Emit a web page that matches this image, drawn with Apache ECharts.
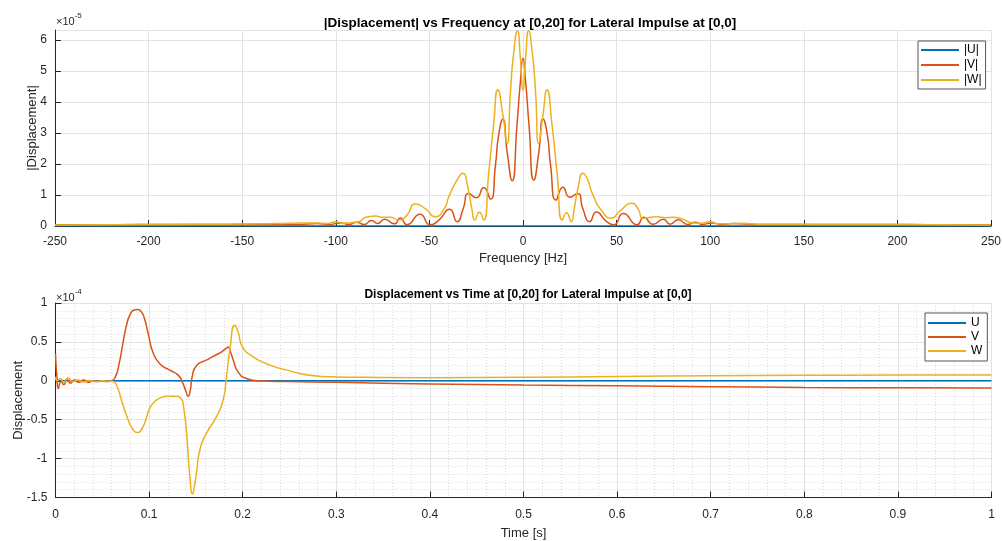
<!DOCTYPE html>
<html>
<head>
<meta charset="utf-8">
<script src="https://cdn.jsdelivr.net/npm/echarts@6/dist/echarts.min.js"></script>
<style>html,body{margin:0;padding:0;background:#fff;}#c{width:1002px;height:541px;}</style>
</head>
<body>
<div id="c"></div>
<script>
// ---------- Top chart: |Displacement| (units of 1e-5) vs frequency ----------
const freqTicks = [-250, -200, -150, -100, -50, 0, 50, 100, 150, 200, 250];
const freqU = [-250, 250];
const magU = [0, 0];
const freqV = [-250, -220, -190, -160, -135, -120, -110, -103, -97.5, -93, -89, -84.7, -81, -77.6, -74, -68.7, -65.5, -62, -55, -49.5, -44.8, -39.2, -35.2, -32, -29, -24.9, -21, -17.4, -14.7, -13, -10.8, -8.5, -5.8, -3.2, -1.4, 0,
  1.4, 3.2, 5.8, 8.5, 10.7, 13, 14.7, 17.7, 21.3, 25, 29.2, 32, 35.6, 39.2, 44.5, 48.5, 53.5, 61, 64.5, 69.5, 75, 78.5, 83, 88, 92, 96, 101, 106, 112, 125, 160, 190, 220, 250];
const magV = [0.04, 0.04, 0.05, 0.05, 0.06, 0.05, 0.08, 0.05, 0.1, 0.05, 0.12, 0.05, 0.18, 0.08, 0.22, 0.07, 0.26, 0.04, 0.38, 0.04, 0.2, 0.54, 0.14, 0.55, 1.05, 0.91, 1.24, 0.87, 1.97, 2.94, 3.44, 2.4, 1.46, 3.26, 4.65, 5.41,
  4.65, 3.26, 1.48, 2.4, 3.45, 2.94, 1.97, 0.84, 1.25, 0.93, 1.05, 0.55, 0.14, 0.45, 0.15, 0.04, 0.4, 0.04, 0.28, 0.06, 0.22, 0.06, 0.2, 0.05, 0.12, 0.05, 0.1, 0.05, 0.08, 0.05, 0.05, 0.05, 0.04, 0.04];
const freqW = [-250, -220, -190, -160, -140, -125, -110, -104.6, -100, -96, -92.9, -87.6, -84, -78.7, -75, -71, -66, -62, -57.5, -52, -47, -42, -39.6, -35, -32.2, -29.5, -27.2, -25.8, -23.3, -21, -18.4, -15.7, -13.4, -10.8, -8.5, -6.7, -4.9, -3, -1.4, 0,
  1.4, 3, 4.9, 6.7, 8.4, 10.7, 12.8, 15.5, 18.3, 21, 23.3, 25.8, 27.2, 29.5, 32, 34.5, 37, 42.4, 47.2, 52, 58.2, 61.5, 64.3, 71.7, 76, 80, 85, 90.4, 95, 100, 104, 108, 118, 125, 140, 160, 190, 220, 250];
const magW = [0.03, 0.04, 0.05, 0.06, 0.07, 0.09, 0.1, 0.08, 0.14, 0.09, 0.1, 0.14, 0.28, 0.32, 0.28, 0.28, 0.19, 0.35, 0.71, 0.55, 0.3, 0.57, 0.95, 1.5, 1.70, 1.25, 0.51, 0.19, 0.44, 0.19, 1.65, 3.26, 4.39, 3.6, 2.66, 4.33, 5.62, 6.29, 5.41, 4.37,
  5.41, 6.29, 5.62, 4.33, 2.66, 3.6, 4.39, 3.26, 1.65, 0.19, 0.43, 0.14, 0.5, 1.25, 1.70, 1.5, 1.05, 0.46, 0.25, 0.5, 0.73, 0.55, 0.25, 0.3, 0.27, 0.28, 0.23, 0.1, 0.09, 0.14, 0.07, 0.07, 0.09, 0.06, 0.06, 0.05, 0.05, 0.04, 0.03];

// ---------- Bottom chart: Displacement (units of 1e-4) vs time ----------
const timeTicks = [0, 0.1, 0.2, 0.3, 0.4, 0.5, 0.6, 0.7, 0.8, 0.9, 1];
const timeU = [0, 1];
const dispU = [0, 0];
const timeV = [0, 0.0015, 0.003, 0.006, 0.009, 0.012, 0.016, 0.02, 0.025, 0.03, 0.035, 0.04, 0.045, 0.05, 0.055, 0.06, 0.064, 0.068, 0.072, 0.076, 0.08, 0.084, 0.0875, 0.091, 0.0945, 0.099, 0.104, 0.1114, 0.122, 0.131, 0.136, 0.1395, 0.1417, 0.144, 0.146, 0.151, 0.161, 0.168, 0.177, 0.1815, 0.1844, 0.187, 0.19, 0.195, 0.204, 0.218, 0.25, 0.3, 0.4, 0.5, 0.6, 0.7, 0.8, 0.9, 1.0];
const dispV = [0.35, 0.05, -0.10, -0.01, -0.05, 0.02, -0.03, 0.01, -0.02, 0.01, -0.02, 0.0, -0.01, 0.0, -0.01, 0.0, 0.05, 0.22, 0.48, 0.72, 0.86, 0.91, 0.915, 0.895, 0.82, 0.61, 0.37, 0.22, 0.137, 0.073, -0.03, -0.14, -0.2, -0.12, 0.05, 0.2, 0.265, 0.31, 0.37, 0.41, 0.436, 0.37, 0.265, 0.115, 0.03, 0.0, -0.01, -0.02, -0.04, -0.055, -0.065, -0.075, -0.085, -0.09, -0.093];
const timeW = [0, 0.002, 0.005, 0.009, 0.0135, 0.018, 0.024, 0.03, 0.036, 0.042, 0.05, 0.056, 0.0616, 0.066, 0.0705, 0.0776, 0.083, 0.0876, 0.0925, 0.0965, 0.1, 0.105, 0.111, 0.12, 0.13, 0.1346, 0.1363, 0.14, 0.1435, 0.1464, 0.1485, 0.1506, 0.1542, 0.1613, 0.172, 0.179, 0.1827, 0.1862, 0.1916, 0.195, 0.2, 0.211, 0.2254, 0.247, 0.282, 0.3, 0.4, 0.5, 0.6, 0.7, 0.8, 0.9, 1.0];
const dispW = [0.05, 0.0, 0.03, -0.02, 0.04, -0.01, 0.01, -0.015, 0.005, -0.01, 0.0, -0.005, -0.01, -0.08, -0.25, -0.50, -0.63, -0.666, -0.61, -0.5, -0.37, -0.28, -0.226, -0.2, -0.2, -0.24, -0.29, -0.675, -1.22, -1.456, -1.35, -1.19, -0.89, -0.675, -0.46, -0.25, 0.05, 0.39, 0.714, 0.63, 0.43, 0.31, 0.22, 0.137, 0.06, 0.05, 0.04, 0.045, 0.055, 0.065, 0.07, 0.073, 0.075];

const C_U = '#0072BD', C_V = '#D95319', C_W = '#EDB120';
const AX = '#262626';
const FONT = 'Liberation Sans, Arial, Helvetica, sans-serif';
const zip = (xs, ys) => xs.map((x, i) => [x, ys[i]]);

function lineSeries(name, xs, ys, color, idx, smooth) {
  return {
    name, type: 'line', xAxisIndex: idx, yAxisIndex: idx,
    data: zip(xs, ys), showSymbol: false, symbol: 'none',
    smooth: smooth,
    lineStyle: { color, width: 1.5 }, itemStyle: { color },
    animation: false
  };
}

function axisBase(margin) {
  return {
    axisLine: { show: true, onZero: false, lineStyle: { color: AX, width: 1 } },
    axisTick: { show: true, inside: true, length: 6, lineStyle: { color: AX } },
    axisLabel: { color: AX, fontSize: 12, fontFamily: FONT, margin: margin },
    nameTextStyle: { color: AX, fontSize: 13, fontFamily: FONT },
    nameMoveOverlap: false,
    splitLine: { show: true, lineStyle: { color: '#e3e3e3', width: 1 } }
  };
}
const minorGrid = { show: true, lineStyle: { color: '#dcdcdc', type: [1, 2], width: 1 } };

const chart = echarts.init(document.getElementById('c'), null, { renderer: 'canvas' });
chart.setOption({
  backgroundColor: '#fff',
  animation: false,
  title: [
    { text: '|Displacement| vs Frequency at [0,20] for Lateral Impulse at [0,0]', left: 525, top: 11, textAlign: 'center',
      textStyle: { fontSize: 13.5, fontWeight: 'bold', color: '#000', fontFamily: FONT } },
    { text: 'Displacement vs Time at [0,20] for Lateral Impulse at [0,0]', left: 523, top: 284, textAlign: 'center',
      textStyle: { fontSize: 12, fontWeight: 'bold', color: '#000', fontFamily: FONT } }
  ],
  grid: [
    { left: 55, top: 30, width: 936, height: 196, outerBoundsMode: 'none', containLabel: false },
    { left: 55.5, top: 303, width: 936, height: 194.5, outerBoundsMode: 'none', containLabel: false }
  ],
  xAxis: [
    Object.assign(axisBase(10), {
      type: 'value', gridIndex: 0, min: -250, max: 250, interval: 50,
      name: 'Frequency [Hz]', nameLocation: 'middle', nameGap: 26
    }),
    Object.assign(axisBase(11), {
      type: 'value', gridIndex: 1, min: 0, max: 1, interval: 0.1,
      name: 'Time [s]', nameLocation: 'middle', nameGap: 29,
      minorTick: { show: false, splitNumber: 5 },
      minorSplitLine: minorGrid
    })
  ],
  yAxis: [
    Object.assign(axisBase(8), {
      type: 'value', gridIndex: 0, min: 0, max: 6.32, interval: 1,
      name: '|Displacement|', nameLocation: 'middle', nameGap: 16
    }),
    Object.assign(axisBase(8), {
      type: 'value', gridIndex: 1, min: -1.5, max: 1, interval: 0.5,
      name: 'Displacement', nameLocation: 'middle', nameGap: 31,
      minorTick: { show: false, splitNumber: 5 },
      minorSplitLine: minorGrid
    })
  ],
  legend: [
    { data: ['|U|', '|V|', '|W|'], orient: 'vertical', left: 918, top: 41, icon: 'rect',
      itemWidth: 38, itemHeight: 2, itemGap: 1, padding: [2, 4, 2, 3],
      backgroundColor: '#fff', borderColor: '#555', borderWidth: 1, borderRadius: 0,
      textStyle: { color: '#000', fontSize: 12, fontFamily: FONT, lineHeight: 14 } },
    { data: ['U', 'V', 'W'], orient: 'vertical', left: 925, top: 313, icon: 'rect',
      itemWidth: 38, itemHeight: 2, itemGap: 0, padding: [3, 5, 3, 3],
      backgroundColor: '#fff', borderColor: '#555', borderWidth: 1, borderRadius: 0,
      textStyle: { color: '#000', fontSize: 12, fontFamily: FONT, lineHeight: 14 } }
  ],
  graphic: [
    { type: 'text', left: 56, top: 12, style: { text: '{a|×10}{b|-5}', rich: { a: { fontSize: 11, fill: AX, fontFamily: FONT, padding: [4, 0, 0, 0] }, b: { fontSize: 8, fill: AX, fontFamily: FONT, verticalAlign: 'top' } } } },
    { type: 'text', left: 56, top: 288, style: { text: '{a|×10}{b|-4}', rich: { a: { fontSize: 11, fill: AX, fontFamily: FONT, padding: [4, 0, 0, 0] }, b: { fontSize: 8, fill: AX, fontFamily: FONT, verticalAlign: 'top' } } } }
  ],
  series: [
    lineSeries('|U|', freqU, magU, C_U, 0, false),
    lineSeries('|V|', freqV, magV, C_V, 0, 0.6),
    lineSeries('|W|', freqW, magW, C_W, 0, 0.6),
    lineSeries('U', timeU, dispU, C_U, 1, false),
    lineSeries('V', timeV, dispV, C_V, 1, 0.6),
    lineSeries('W', timeW, dispW, C_W, 1, 0.6)
  ]
});
</script>
</body>
</html>
